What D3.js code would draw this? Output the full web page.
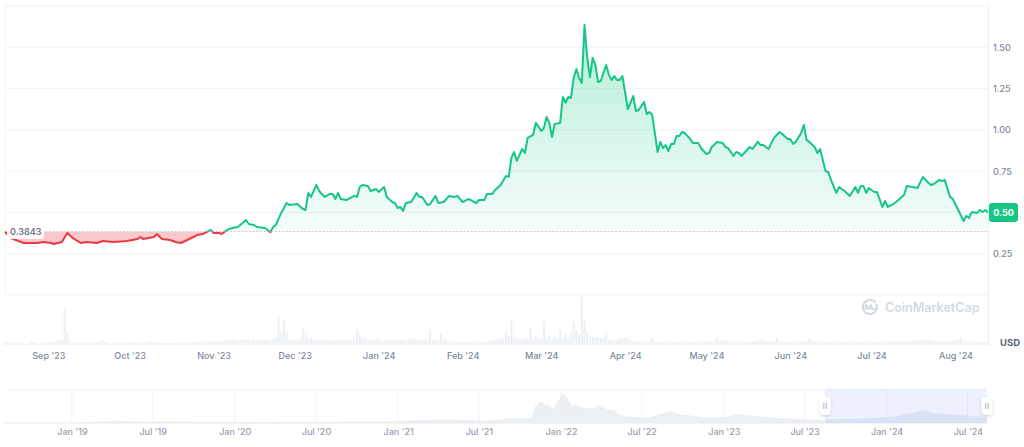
<!DOCTYPE html>
<html><head><meta charset="utf-8">
<script src="https://cdn.jsdelivr.net/npm/d3@7"></script>
<style>
body{margin:0;background:#fff;}
svg{display:block;font-family:Inter,"Noto Sans",sans-serif;}
</style></head><body>
<svg id="c" width="1024" height="447"></svg>
<script>
// ---------- DATA ----------
const priceSeries = [
["2023-08-16",0.384],["2023-08-18",0.345],["2023-08-23",0.315],["2023-08-28",0.315],["2023-08-30",0.321],
["2023-09-02",0.315],["2023-09-03",0.309],["2023-09-06",0.321],["2023-09-08",0.376],["2023-09-10",0.345],
["2023-09-13",0.315],["2023-09-15",0.321],["2023-09-19",0.315],["2023-09-21",0.327],["2023-09-25",0.321],
["2023-09-30",0.327],["2023-10-04",0.339],["2023-10-05",0.351],["2023-10-06",0.339],["2023-10-10",0.351],
["2023-10-11",0.369],["2023-10-13",0.339],["2023-10-16",0.333],["2023-10-18",0.321],["2023-10-20",0.315],
["2023-10-23",0.339],["2023-10-26",0.363],["2023-10-28",0.369],["2023-10-31",0.394],["2023-11-01",0.376],
["2023-11-03",0.376],["2023-11-04",0.369],["2023-11-06",0.394],["2023-11-08",0.406],["2023-11-10",0.412],
["2023-11-13",0.454],["2023-11-14",0.430],["2023-11-16",0.424],["2023-11-17",0.412],["2023-11-20",0.406],
["2023-11-22",0.380],["2023-11-23",0.412],["2023-11-24",0.424],["2023-11-26",0.497],["2023-11-28",0.557],
["2023-11-29",0.545],["2023-12-02",0.551],["2023-12-04",0.521],["2023-12-05",0.515],["2023-12-06",0.618],
["2023-12-07",0.594],["2023-12-09",0.666],["2023-12-10",0.630],["2023-12-12",0.594],["2023-12-14",0.612],
["2023-12-15",0.612],["2023-12-16",0.581],["2023-12-17",0.618],["2023-12-18",0.581],["2023-12-20",0.575],
["2023-12-23",0.600],["2023-12-24",0.594],["2023-12-25",0.654],["2023-12-26",0.666],["2023-12-28",0.660],
["2023-12-29",0.630],["2023-12-31",0.642],["2024-01-01",0.624],["2024-01-03",0.654],["2024-01-04",0.594],
["2024-01-06",0.563],["2024-01-07",0.557],["2024-01-08",0.527],["2024-01-09",0.533],["2024-01-10",0.509],
["2024-01-11",0.557],["2024-01-13",0.563],["2024-01-15",0.618],["2024-01-16",0.594],["2024-01-17",0.594],
["2024-01-19",0.545],["2024-01-20",0.551],["2024-01-22",0.600],["2024-01-23",0.557],["2024-01-25",0.563],
["2024-01-27",0.600],["2024-01-29",0.594],["2024-01-30",0.600],["2024-02-01",0.563],["2024-02-03",0.581],
["2024-02-04",0.575],["2024-02-06",0.557],["2024-02-07",0.575],["2024-02-09",0.575],["2024-02-10",0.612],
["2024-02-12",0.612],["2024-02-13",0.636],["2024-02-15",0.666],["2024-02-17",0.721],["2024-02-18",0.715],
["2024-02-19",0.830],["2024-02-20",0.866],["2024-02-21",0.812],["2024-02-23",0.884],["2024-02-24",0.860],
["2024-02-25",0.951],["2024-02-27",0.969],["2024-02-28",1.042],["2024-02-29",1.020],["2024-03-01",0.993],
["2024-03-02",1.011],["2024-03-03",1.078],["2024-03-04",1.042],["2024-03-05",0.957],["2024-03-06",1.036],
["2024-03-08",1.042],["2024-03-09",1.199],["2024-03-10",1.163],["2024-03-11",1.199],["2024-03-12",1.193],
["2024-03-13",1.314],["2024-03-14",1.369],["2024-03-15",1.314],["2024-03-16",1.284],["2024-03-17",1.635],
["2024-03-18",1.436],["2024-03-19",1.320],["2024-03-20",1.436],["2024-03-21",1.393],["2024-03-22",1.290],
["2024-03-23",1.296],["2024-03-25",1.393],["2024-03-26",1.333],["2024-03-27",1.302],["2024-03-28",1.326],
["2024-03-29",1.302],["2024-03-30",1.302],["2024-03-31",1.326],["2024-04-02",1.126],["2024-04-04",1.205],
["2024-04-05",1.114],["2024-04-06",1.120],["2024-04-08",1.169],["2024-04-09",1.096],["2024-04-10",1.108],
["2024-04-11",1.090],["2024-04-13",0.866],["2024-04-14",0.927],["2024-04-15",0.890],["2024-04-16",0.908],
["2024-04-17",0.872],["2024-04-18",0.915],["2024-04-19",0.915],["2024-04-20",0.963],["2024-04-21",0.963],
["2024-04-22",0.987],["2024-04-23",0.981],["2024-04-25",0.945],["2024-04-26",0.921],["2024-04-28",0.921],
["2024-04-29",0.890],["2024-05-01",0.854],["2024-05-02",0.860],["2024-05-03",0.896],["2024-05-05",0.927],
["2024-05-07",0.921],["2024-05-08",0.896],["2024-05-09",0.890],["2024-05-11",0.842],["2024-05-12",0.866],
["2024-05-13",0.860],["2024-05-14",0.842],["2024-05-15",0.860],["2024-05-17",0.896],["2024-05-18",0.884],
["2024-05-20",0.927],["2024-05-21",0.908],["2024-05-22",0.908],["2024-05-24",0.884],["2024-05-25",0.921],
["2024-05-26",0.951],["2024-05-28",0.987],["2024-05-29",0.975],["2024-05-31",0.945],["2024-06-01",0.945],
["2024-06-02",0.915],["2024-06-03",0.927],["2024-06-05",0.981],["2024-06-06",1.030],["2024-06-07",0.939],
["2024-06-08",0.927],["2024-06-10",0.896],["2024-06-11",0.860],["2024-06-12",0.884],["2024-06-14",0.751],
["2024-06-15",0.745],["2024-06-16",0.697],["2024-06-18",0.618],["2024-06-19",0.654],["2024-06-21",0.630],
["2024-06-23",0.600],["2024-06-25",0.654],["2024-06-26",0.618],["2024-06-27",0.660],["2024-06-28",0.660],
["2024-06-29",0.618],["2024-06-30",0.648],["2024-07-02",0.624],["2024-07-03",0.624],["2024-07-05",0.533],
["2024-07-06",0.569],["2024-07-07",0.533],["2024-07-09",0.551],["2024-07-10",0.563],["2024-07-13",0.606],
["2024-07-14",0.660],["2024-07-16",0.654],["2024-07-18",0.648],["2024-07-19",0.684],["2024-07-20",0.715],
["2024-07-22",0.678],["2024-07-23",0.666],["2024-07-24",0.672],["2024-07-26",0.697],["2024-07-27",0.690],
["2024-07-28",0.697],["2024-07-30",0.594],["2024-07-31",0.581],["2024-08-02",0.515],["2024-08-04",0.448],
["2024-08-05",0.479],["2024-08-06",0.466],["2024-08-07",0.503],["2024-08-09",0.497],["2024-08-10",0.515],
["2024-08-11",0.503],["2024-08-12",0.515],["2024-08-13",0.500]
];
const refPrice = 0.3843;
const lastPrice = 0.50;
const volumeStart = "2023-08-16";   // daily volumes (USD millions) from this date
const volumes = [
30,25,20,18,15,20,22,18,15,20, 40,22,18,15,20,18,20,25,30,35,
50,50,370,130,40,25,20,18,15,20, 18,15,20,22,25,30,50,30,20,18,
15,18,20,15,18,20,22,30,20,18, 20,25,30,35,38,30,25,20,18,20,
22,20,18,20,25,22,20,18,20,25, 30,28,25,30,35,40,45,38,35,40,
45,40,50,45,55,50,45,50,55,60, 55,50,60,45,55,50,60,55,50,60,
80,280,120,260,130,50,45,40,45,60, 170,120,60,70,50,45,40,50,45,40,
45,40,45,50,40,45,50,45,55,60, 160,100,60,70,50,45,50,55,70,50,
45,50,55,45,50,55,60,50,45,50, 55,70,50,45,50,45,40,140,50,45,
40,110,45,40,35,30,30,28,30,32, 30,28,30,32,30,35,30,28,35,40,
45,50,55,70,60,140,90,240,80,60, 55,60,70,65,170,60,100,55,70,240,
80,100,60,80,70,150,60,120,70,120, 230,150,100,480,240,130,80,85,80,75,
80,70,120,60,55,50,45,70,65,70, 70,50,45,40,35,30,35,30,40,70,
30,28,30,32,30,35,30,28,30,32, 30,35,30,28,30,32,35,30,38,35,
40,38,45,80,40,50,42,38,35,30, 32,30,35,30,28,30,35,40,45,60,
40,38,35,40,45,70,40,35,30,32, 30,35,30,32,35,38,40,60,38,35,
30,35,32,30,28,30,35,30,32,30, 28,30,32,35,30,28,30,35,30,32,
35,30,28,30,32,35,40,38,35,30, 35,40,45,40,38,42,40,45,50,55,
60,50,45,40,38,42,45,40,38,35, 40,45,55,80,50,40,35,38,30,28,
30,25,28,20
];
const navSeries = [
["2018-08-04",0.05],["2019-01-15",0.06],["2019-04-12",0.19],["2019-06-20",0.10],["2019-07-11",0.17],
["2019-10-15",0.10],["2020-03-15",0.08],["2020-05-27",0.10],["2020-11-22",0.12],["2021-02-13",0.29],
["2021-04-28",0.34],["2021-07-04",0.25],["2021-07-26",0.25],["2021-09-09",0.45],["2021-10-01",0.42],
["2021-10-28",0.50],["2021-11-03",1.55],["2021-11-15",2.10],["2021-11-26",1.80],["2021-12-07",1.75],
["2021-12-14",1.30],["2021-12-21",1.75],["2021-12-25",2.10],["2022-01-03",2.80],["2022-01-10",2.75],
["2022-01-17",2.35],["2022-01-26",1.55],["2022-02-01",1.85],["2022-02-12",1.60],["2022-02-28",1.45],
["2022-03-13",1.35],["2022-03-29",1.75],["2022-04-13",1.35],["2022-05-01",1.25],["2022-05-12",0.80],
["2022-06-10",0.60],["2022-07-12",0.50],["2022-08-10",0.85],["2022-09-06",1.15],["2022-09-24",0.85],
["2022-10-16",0.75],["2022-11-23",0.50],["2023-01-07",0.58],["2023-01-29",0.85],["2023-02-21",0.75],
["2023-04-07",0.60],["2023-06-04",0.40],["2023-08-05",0.35],["2023-10-11",0.38],["2023-12-02",0.50],
["2024-01-16",0.60],["2024-02-23",0.95],["2024-03-23",1.25],["2024-04-14",0.95],["2024-05-15",0.88],
["2024-06-20",0.75],["2024-07-12",0.65],["2024-08-04",0.62],["2024-08-13",0.50]
];
const priceTicks = [0.25,0.50,0.75,1.00,1.25,1.50];
const gridTicks = [0.25,0.50,0.75,1.00,1.25,1.50,1.75];
const monthTicks = ["2023-09-01","2023-10-01","2023-11-01","2023-12-01","2024-01-01","2024-02-01",
  "2024-03-01","2024-04-01","2024-05-01","2024-06-01","2024-07-01","2024-08-01"];
const navTicks = ["2019-01-01","2019-07-01","2020-01-01","2020-07-01","2021-01-01","2021-07-01",
  "2022-01-01","2022-07-01","2023-01-01","2023-07-01","2024-01-01","2024-07-01"];
const mainRange = ["2023-08-16","2024-08-13"];
const navRange = ["2018-08-04","2024-08-13"];

// ---------- CHART ----------
const parse = d3.utcParse("%Y-%m-%d");
const svg = d3.select("#c");
const GREEN = "#16c784", RED = "#ea3943";

const x = d3.scaleUtc().domain(mainRange.map(parse)).range([5, 988]);
const y = d3.scaleLinear().domain([0, 1.75]).range([295, 6]);
const yv = d3.scaleLinear().domain([0, 500]).range([345, 295]);
const data = priceSeries.map(([d, v]) => ({date: parse(d), v}));
const refY = y(refPrice);

const defs = svg.append("defs");
defs.append("clipPath").attr("id","above").append("rect")
  .attr("x",0).attr("y",0).attr("width",1024).attr("height",refY);
defs.append("clipPath").attr("id","below").append("rect")
  .attr("x",0).attr("y",refY).attr("width",1024).attr("height",300-refY);
const grad = defs.append("linearGradient").attr("id","gg")
  .attr("gradientUnits","userSpaceOnUse").attr("x1",0).attr("x2",0)
  .attr("y1", y(d3.max(data, d=>d.v))).attr("y2", refY);
grad.append("stop").attr("offset",0).attr("stop-color",GREEN).attr("stop-opacity",0.32);
grad.append("stop").attr("offset",1).attr("stop-color",GREEN).attr("stop-opacity",0.04);
const sh = defs.append("filter").attr("id","sh").attr("x","-50%").attr("y","-50%").attr("width","200%").attr("height","200%");
sh.append("feDropShadow").attr("dx",0).attr("dy",1).attr("stdDeviation",1.5).attr("flood-color","#000").attr("flood-opacity",0.18);

// grid lines
svg.append("g").selectAll("line").data(gridTicks).join("line")
  .attr("x1",5).attr("x2",988).attr("y1",d=>y(d)).attr("y2",d=>y(d))
  .attr("stroke","#f1f2f4").attr("stroke-width",1);
svg.append("line").attr("x1",5).attr("x2",988).attr("y1",y(0)).attr("y2",y(0)).attr("stroke","#eff1f4");
svg.append("line").attr("x1",5.5).attr("x2",5.5).attr("y1",y(1.75)).attr("y2",y(0)).attr("stroke","#f1f2f4");
svg.append("line").attr("x1",988.5).attr("x2",988.5).attr("y1",y(1.75)).attr("y2",yv(0)).attr("stroke","#eceef2");

// volume bars
const v0 = parse(volumeStart);
const vData = volumes.map((v,i) => ({date: d3.utcDay.offset(v0, i), v}));
const bw = x(d3.utcDay.offset(v0,1)) - x(v0);
svg.append("g").selectAll("rect").data(vData).join("rect")
  .attr("x", d => x(d.date) - bw/2 + 0.3).attr("width", bw - 0.6)
  .attr("y", d => yv(d.v)).attr("height", d => yv(0) - yv(d.v))
  .attr("fill","#edf0f5");

// watermark
const wm = svg.append("g").attr("transform","translate(870,307)").attr("fill","none").attr("stroke","#d3d9e5");
wm.append("path").attr("d", d3.arc()({innerRadius:7, outerRadius:7, startAngle:0.35*Math.PI, endAngle:2.3*Math.PI}))
  .attr("stroke-width",2);
wm.append("path").attr("d","M-4,3 L-4,-2 L-1,2 L1,-2 L2,2 Q4,3 6,1").attr("stroke-width",1.8).attr("stroke-linejoin","round");
svg.append("text").attr("x",885).attr("y",311.5).attr("font-size",12.5).attr("font-weight",600)
  .attr("fill","#d3d9e5").text("CoinMarketCap");

// areas
const area = d3.area().x(d=>x(d.date)).y0(refY).y1(d=>y(d.v));
const line = d3.line().x(d=>x(d.date)).y(d=>y(d.v));
svg.append("path").datum(data).attr("d",area).attr("fill","url(#gg)").attr("clip-path","url(#above)");
svg.append("path").datum(data).attr("d",area).attr("fill",RED).attr("fill-opacity",0.28).attr("clip-path","url(#below)");

// reference dotted line
svg.append("line").attr("x1",5).attr("x2",988).attr("y1",refY).attr("y2",refY)
  .attr("stroke","#c9b9c0").attr("stroke-width",1).attr("stroke-dasharray","1.2,2.5");

// lines
svg.append("path").datum(data).attr("d",line).attr("fill","none").attr("stroke",GREEN)
  .attr("stroke-width",2).attr("stroke-linejoin","round").attr("clip-path","url(#above)");
svg.append("path").datum(data).attr("d",line).attr("fill","none").attr("stroke",RED)
  .attr("stroke-width",2).attr("stroke-linejoin","round").attr("clip-path","url(#below)");

// reference label
svg.append("rect").attr("x",7).attr("y",refY-6.5).attr("width",37).attr("height",14).attr("rx",3)
  .attr("fill","#fff").attr("fill-opacity",0.92);
svg.append("text").attr("x",10).attr("y",refY+0.5).attr("dy","0.35em").attr("font-size",9)
  .attr("font-weight",600).attr("fill","#6b778c").text(refPrice.toFixed(4));

// x axis (main)
const xAxis = svg.append("g").attr("transform","translate(0,353)")
  .call(d3.axisBottom(x).tickValues(monthTicks.map(parse)).tickFormat(d3.utcFormat("%b '%y")).tickSize(0).tickPadding(0));
xAxis.select(".domain").remove();
xAxis.selectAll("text").attr("font-size",9).attr("font-weight",500).attr("fill","#808a9d").attr("font-family","Inter");

// y axis (right)
const yAxis = svg.append("g").attr("transform","translate(988,0)")
  .call(d3.axisRight(y).tickValues(priceTicks).tickFormat(d3.format(".2f")).tickSize(0).tickPadding(5));
yAxis.select(".domain").remove();
yAxis.selectAll("text").attr("font-size",9).attr("font-weight",500).attr("fill","#808a9d").attr("font-family","Inter");

// current price tag
svg.append("rect").attr("x",989).attr("y",y(lastPrice)-9.5).attr("width",29).attr("height",19).attr("rx",3).attr("fill",GREEN);
svg.append("text").attr("x",1003.5).attr("y",y(lastPrice)).attr("dy","0.35em").attr("text-anchor","middle")
  .attr("font-size",9).attr("font-weight",700).attr("fill","#fff").text(lastPrice.toFixed(2));

svg.append("text").attr("x",1000).attr("y",345.5).attr("font-size",9.5).attr("font-weight",700)
  .attr("fill","#58667e").text("USD");

// ---------- NAVIGATOR ----------
const xn = d3.scaleUtc().domain(navRange.map(parse)).range([5, 987]);
const yn = d3.scaleLinear().domain([0, 3.3]).range([423, 389]);
const nData = navSeries.map(([d,v]) => ({date: parse(d), v}));
svg.append("line").attr("x1",5).attr("x2",987).attr("y1",389.5).attr("y2",389.5).attr("stroke","#f3f4f6");
svg.append("g").selectAll("line").data(navTicks.map(parse)).join("line")
  .attr("x1",d=>xn(d)).attr("x2",d=>xn(d)).attr("y1",389).attr("y2",423).attr("stroke","#f1f2f4");
svg.append("path").datum(nData)
  .attr("d", d3.area().x(d=>xn(d.date)).y0(423).y1(d=>yn(d.v)))
  .attr("fill","#eceff3");
svg.append("line").attr("x1",5).attr("x2",987).attr("y1",423).attr("y2",423).attr("stroke","#e6e9ee");
const bx0 = xn(parse(mainRange[0])), bx1 = xn(parse(mainRange[1]));
svg.append("rect").attr("x",bx0).attr("y",389).attr("width",bx1-bx0).attr("height",34)
  .attr("fill","#3861fb").attr("fill-opacity",0.09);
[bx0, bx1].forEach(hx => {
  const g = svg.append("g").attr("transform",`translate(${hx},406)`);
  g.append("rect").attr("x",-5.5).attr("y",-9).attr("width",11).attr("height",18).attr("rx",4)
    .attr("fill","#fff").attr("filter","url(#sh)");
  g.append("line").attr("x1",-1.2).attr("x2",-1.2).attr("y1",-3).attr("y2",3).attr("stroke","#a9b1c0");
  g.append("line").attr("x1",1.2).attr("x2",1.2).attr("y1",-3).attr("y2",3).attr("stroke","#a9b1c0");
});
const nAxis = svg.append("g").attr("transform","translate(0,429)")
  .call(d3.axisBottom(xn).tickValues(navTicks.map(parse)).tickFormat(d3.utcFormat("%b '%y")).tickSize(0).tickPadding(0));
nAxis.select(".domain").remove();
nAxis.selectAll("text").attr("font-size",9).attr("font-weight",500).attr("fill","#959eb0").attr("font-family","Inter");
</script>
</body></html>
